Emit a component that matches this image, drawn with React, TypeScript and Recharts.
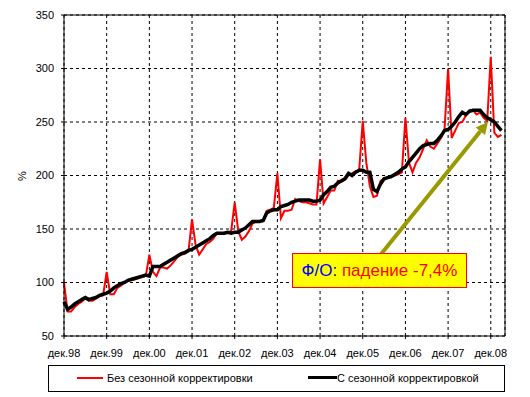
import React from 'react';
import { LineChart, Line, XAxis, YAxis, CartesianGrid, ReferenceLine } from 'recharts';

// monthly index 0 = Dec 1998 ... 123 = Mar 2009
const tickLabels = ['дек.98', 'дек.99', 'дек.00', 'дек.01', 'дек.02', 'дек.03', 'дек.04', 'дек.05', 'дек.06', 'дек.07', 'дек.08'];
const yTicks = [50, 100, 150, 200, 250, 300, 350];

const rawSeries = [
  100, 73, 73, 77, 80, 82, 85, 83, 83, 85, 87, 88,
  110, 89, 89, 95, 97, 100, 102, 102, 103, 104, 105, 106,
  126, 110, 106, 114, 114, 113, 116, 120, 124, 126, 127, 129,
  159, 135, 126, 131, 136, 138, 141, 146, 146, 146, 147, 148,
  175, 148, 140, 143, 148, 155, 157, 157, 158, 167, 168, 170,
  202, 160, 167, 167, 168, 178, 176, 175, 175, 174, 173, 173,
  215, 174, 180, 186, 186, 195, 194, 196, 200, 202, 204, 205,
  251, 212, 190, 180, 181, 195, 197, 198, 199, 200, 201, 203,
  254, 212, 203, 212, 217, 225, 233, 227, 225, 230, 235, 243,
  300, 235, 242, 249, 250, 256, 261, 261, 257, 259, 254, 251,
  311, 240, 236, 238,
];

const adjSeries = [
  82, 75, 77, 80, 82, 84, 86, 84, 85, 86, 88, 89,
  90, 92, 95, 97, 99, 100, 102, 103, 104, 105, 106, 107,
  106, 115, 115, 115, 117, 119, 121, 123, 125, 127, 128, 130,
  131, 133, 135, 137, 139, 141, 144, 146, 146, 146, 147, 146,
  147, 147, 149, 151, 154, 157, 157, 157, 158, 165, 167, 168,
  168, 171, 172, 173, 175, 176, 177, 177, 177, 177, 176, 176,
  177, 182, 185, 189, 190, 193, 195, 197, 202, 200, 203, 205,
  205, 203, 203, 187, 185, 192, 197, 198, 199, 201, 203, 206,
  208, 213, 217, 221, 225, 228, 229, 230, 230, 233, 237, 242,
  243, 246, 250, 255, 259, 257, 260, 261, 261, 261, 257, 254,
  252, 250, 246, 242,
];

const data = rawSeries.map((v, i) => ({ i, raw: v, adj: adjSeries[i] }));
const xTicks = tickLabels.map((_, k) => k * 12);

const FONT = '"Liberation Sans", Arial, sans-serif';
const OLIVE = '#999900';

function Arrow(props: any) {
  const { x1, y1, x2, y2 } = props;
  const dx = x2 - x1;
  const dy = y2 - y1;
  const len = Math.sqrt(dx * dx + dy * dy);
  const ux = dx / len;
  const uy = dy / len;
  const head = 12;
  const hw = 6;
  const bx = x2 - ux * head;
  const by = y2 - uy * head;
  const pts = `${x2},${y2} ${bx - uy * hw},${by + ux * hw} ${bx + uy * hw},${by - ux * hw}`;
  return (
    <g>
      <line x1={x1} y1={y1} x2={bx} y2={by} stroke={OLIVE} strokeWidth={4} />
      <polygon points={pts} fill={OLIVE} />
    </g>
  );
}

export default function App() {
  return (
    <div style={{ position: 'absolute', left: 0, top: 0, width: 530, height: 397, background: '#fff', fontFamily: FONT }}>
      <LineChart width={530} height={360} data={data} margin={{ top: 15, right: 25, bottom: 4, left: 20 }}>
        <CartesianGrid stroke="#000" strokeDasharray="3 3" />
        <XAxis
          dataKey="i"
          type="number"
          domain={[0, 124]}
          ticks={xTicks}
          tickFormatter={(v) => tickLabels[v / 12]}
          height={20}
          interval={0}
          tickSize={3}
          tickMargin={10}
          stroke="#000"
          tick={{ fontSize: 11, fill: '#000', fontFamily: FONT }}
        />
        <YAxis
          domain={[50, 350]}
          ticks={yTicks}
          width={44}
          interval={0}
          tickSize={3}
          tickMargin={7}
          stroke="#000"
          tick={{ fontSize: 11, fill: '#000', fontFamily: FONT }}
        />
        <ReferenceLine y={350} stroke="#000" />
        <ReferenceLine x={124} stroke="#000" />
        <Line type="linear" dataKey="raw" stroke="#ff0000" strokeWidth={2} dot={false} isAnimationActive={false} />
        <Line type="linear" dataKey="adj" stroke="#000" strokeWidth={3.5} dot={false} isAnimationActive={false} />
        <ReferenceLine segment={[{ x: 89, y: 126 }, { x: 119.2, y: 250 }]} shape={Arrow} />
      </LineChart>

      <div style={{ position: 'absolute', left: 14, top: 168, width: 16, height: 16, transform: 'rotate(-90deg)', fontSize: 11, textAlign: 'center', lineHeight: '16px' }}>%</div>

      <div
        style={{
          position: 'absolute', left: 292, top: 253, width: 175, height: 35, boxSizing: 'border-box',
          background: '#ffff00', border: '1px solid #ff0000', textAlign: 'center', lineHeight: '33px', fontSize: 17,
        }}
      >
        <span style={{ color: '#0000ff' }}>Ф/О:</span>
        <span style={{ color: '#ff0000' }}> падение -7,4%</span>
      </div>

      <div style={{ position: 'absolute', left: 48, top: 365, width: 457, height: 27, boxSizing: 'border-box', border: '1px solid #000', fontSize: 11 }}>
        <div style={{ position: 'absolute', left: 28, top: 11, width: 26, height: 2, background: '#ff0000' }} />
        <div style={{ position: 'absolute', left: 58, top: 5, lineHeight: '14px' }}>Без сезонной корректировки</div>
        <div style={{ position: 'absolute', left: 259, top: 10, width: 29, height: 3, background: '#000' }} />
        <div style={{ position: 'absolute', left: 288, top: 5, lineHeight: '14px' }}>С сезонной корректировкой</div>
      </div>
    </div>
  );
}
